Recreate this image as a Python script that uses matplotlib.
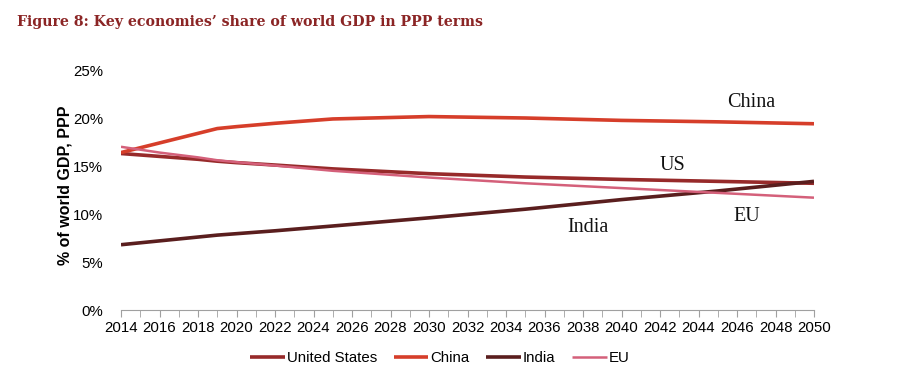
import matplotlib
matplotlib.use("Agg")
import matplotlib.pyplot as plt
from matplotlib.ticker import FuncFormatter, MultipleLocator

years = [2014, 2016, 2018, 2019, 2020, 2022, 2025, 2030, 2035, 2040, 2045, 2050]
us = [16.3, 16.0, 15.7, 15.5, 15.35, 15.1, 14.7, 14.2, 13.85, 13.6, 13.4, 13.2]
china = [16.4, 17.4, 18.4, 18.9, 19.1, 19.45, 19.9, 20.15, 20.0, 19.75, 19.6, 19.4]
india = [6.8, 7.2, 7.6, 7.8, 7.95, 8.25, 8.75, 9.6, 10.5, 11.5, 12.4, 13.4]
eu = [17.0, 16.4, 15.9, 15.6, 15.4, 15.05, 14.5, 13.8, 13.2, 12.7, 12.2, 11.7]

names = ["United States", "China", "India", "EU"]
series = [us, china, india, eu]
colors = ["#972a2a", "#d63e2a", "#5a1e1e", "#d4607a"]
widths = [2.6, 2.6, 2.6, 1.8]

fig = plt.figure(figsize=(9.12, 3.88), dpi=100)
ax = fig.add_axes([121 / 912, 1 - 310 / 388, (814 - 121) / 912, (310 - 70) / 388])

for name, vals, c, w in zip(names, series, colors, widths):
    ax.plot(years, vals, color=c, lw=w, label=name, solid_capstyle="butt")

ax.set_xlim(2014, 2050)
ax.set_ylim(0, 25)
ax.xaxis.set_major_locator(MultipleLocator(2))
ax.xaxis.set_minor_locator(MultipleLocator(1))
ax.yaxis.set_major_locator(MultipleLocator(5))
ax.yaxis.set_major_formatter(FuncFormatter(lambda v, p: f"{v:.0f}%"))

for s in ["top", "right", "left"]:
    ax.spines[s].set_visible(False)
ax.spines["bottom"].set_color("#a0a0a0")
ax.tick_params(axis="x", which="both", direction="out", length=5, color="#a0a0a0",
               labelsize=10.8, pad=3)
ax.tick_params(axis="y", length=0, labelsize=10.8, pad=13)
for lab in ax.get_xticklabels() + ax.get_yticklabels():
    lab.set_family("Liberation Sans")

ax.set_ylabel("% of world GDP, PPP", fontsize=11.5, fontweight="bold",
              family="Liberation Sans", labelpad=0)
ax.yaxis.set_label_coords((72 - 121) / (814 - 121), 0.52)

lab_font = dict(family="Liberation Serif", fontsize=14.5, color="#111111")
ax.text(2045.5, 21.1, "China", **lab_font)
ax.text(2042.0, 14.6, "US", **lab_font)
ax.text(2045.8, 9.3, "EU", **lab_font)
ax.text(2037.2, 8.1, "India", **lab_font)

fig.text(17 / 912, 1 - 22 / 388, "Figure 8: Key economies\u2019 share of world GDP in PPP terms",
         family="DejaVu Serif", fontweight="bold", fontsize=10.2, color="#8b2525",
         va="center", ha="left")

leg = fig.legend(loc="center", bbox_to_anchor=(440 / 912, 1 - 358 / 388), ncol=4,
                 frameon=False, handlelength=2.3, handletextpad=0.15, columnspacing=1.1,
                 prop={"family": "Liberation Sans", "size": 10.8})

fig.savefig("out.png", dpi=100, facecolor="white")
